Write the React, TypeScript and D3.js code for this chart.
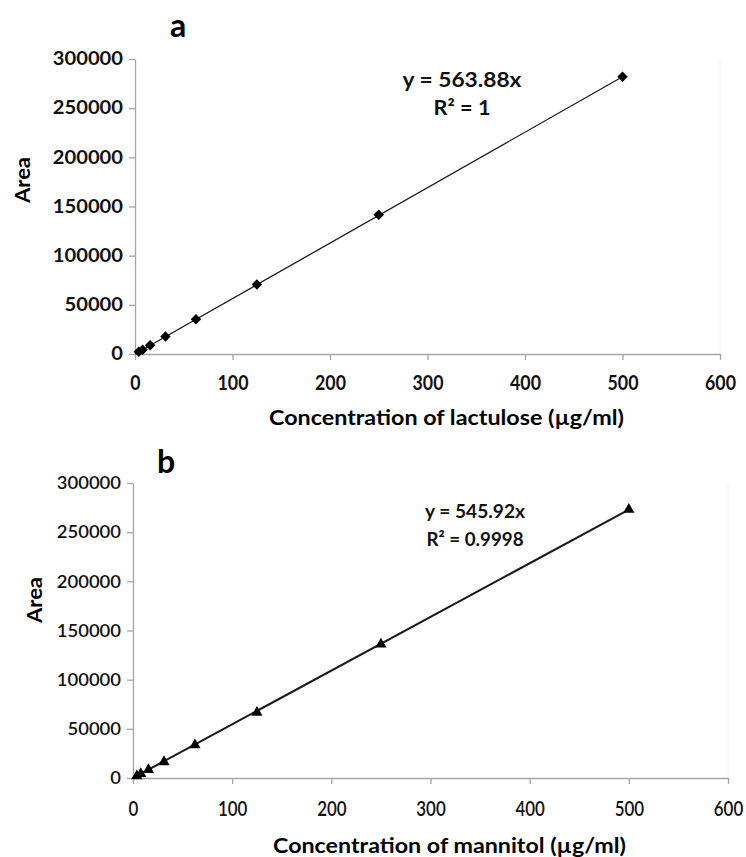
import { useEffect, useRef } from 'react';
import * as d3 from 'd3';

// serial dilutions, µg/ml
const concentrations = [3.9, 7.8, 15.6, 31.25, 62.5, 125, 250, 500];
const lactuloseArea = [2200, 4400, 8800, 17700, 35300, 70700, 141500, 282000];
const mannitolArea = [2100, 4300, 8500, 16400, 33600, 66500, 136000, 273000];

const yTicks = [0, 50000, 100000, 150000, 200000, 250000, 300000];
const xTicks = [0, 100, 200, 300, 400, 500, 600];

const lactuloseSlope = 563.88;
const mannitolSlope = 545.92;

const FONT = 'Lato, "Noto Sans", sans-serif';

interface PanelProps {
  letter: string;
  xTitle: string;
  values: number[];
  slope: number;
  eqText: string;
  r2Text: string;
  marker: 'diamond' | 'triangle';
  frame: { left: number; right: number; top: number; bottom: number };
  letterPos: [number, number];
  areaPos: [number, number];
  eqPos: [number, number];
  eqSize: number;
  eqWidths: [number, number];
  titleY: number;
  titleWidth: number;
  yCharW: number;
  xCharW: number;
  xLabelY: number;
  lineWidth: number;
  tickWeight: number;
}

// stretch text to the measured width of the original (Calibri-like) lettering
function fit(sel: d3.Selection<any, any, any, any>, w: number) {
  return sel.attr('textLength', w).attr('lengthAdjust', 'spacingAndGlyphs');
}

function Panel(p: PanelProps) {
  const ref = useRef<SVGGElement | null>(null);

  useEffect(() => {
    if (!ref.current) return;
    const g = d3.select(ref.current);
    g.selectAll('*').remove();

    const { left, right, top, bottom } = p.frame;
    const x = d3.scaleLinear().domain([0, 600]).range([left, right]);
    const y = d3.scaleLinear().domain([0, 300000]).range([bottom, top]);

    // faint plot-area border on the right
    g.append('line')
      .attr('x1', right).attr('x2', right)
      .attr('y1', top).attr('y2', bottom)
      .attr('stroke', '#f0f0f0');

    const xAxis = g.append('g')
      .attr('transform', `translate(0,${bottom})`)
      .call(d3.axisBottom(x).tickValues(xTicks).tickSize(6).tickSizeOuter(0));
    const yAxis = g.append('g')
      .attr('transform', `translate(${left},0)`)
      .call(d3.axisLeft(y).tickValues(yTicks).tickSize(6).tickPadding(6).tickSizeOuter(0).tickFormat(d3.format('d')));

    [xAxis, yAxis].forEach(ax => {
      ax.select('.domain').attr('stroke', '#a6a6a6').attr('stroke-width', 1.3);
      ax.selectAll('.tick line').attr('stroke', '#a6a6a6').attr('stroke-width', 1.3);
      ax.selectAll('.tick text')
        .attr('fill', '#111')
        .style('font-family', FONT)
        .style('font-weight', p.tickWeight);
    });
    yAxis.selectAll<SVGTextElement, number>('.tick text')
      .style('font-size', '18px')
      .attr('textLength', d => String(d).length * p.yCharW)
      .attr('lengthAdjust', 'spacingAndGlyphs');
    xAxis.selectAll<SVGTextElement, number>('.tick text')
      .style('font-size', '21px')
      .attr('dy', null)
      .attr('y', p.xLabelY - bottom)
      .attr('textLength', d => String(d).length * p.xCharW)
      .attr('lengthAdjust', 'spacingAndGlyphs');

    // trendline through origin
    const line = d3.line<number>().x(d => x(d)).y(d => y(d * p.slope));
    g.append('path')
      .attr('d', line([0, 500]))
      .attr('fill', 'none')
      .attr('stroke', '#1a1a1a')
      .attr('stroke-width', p.lineWidth);

    const sym = d3.symbol()
      .type(p.marker === 'diamond' ? d3.symbolDiamond2 : d3.symbolTriangle)
      .size(p.marker === 'diamond' ? 70 : 55);
    g.selectAll('path.pt')
      .data(concentrations)
      .enter()
      .append('path')
      .attr('class', 'pt')
      .attr('d', sym)
      .attr('transform', (d, i) => `translate(${x(d)},${y(p.values[i])})`)
      .attr('fill', '#000');

    g.append('text')
      .attr('x', p.letterPos[0]).attr('y', p.letterPos[1])
      .attr('text-anchor', 'middle')
      .style('font-family', FONT).style('font-size', '32px').style('font-weight', 700)
      .text(p.letter);

    fit(g.append('text')
      .attr('transform', `translate(${p.areaPos[0]},${p.areaPos[1]}) rotate(-90)`)
      .attr('text-anchor', 'middle')
      .style('font-family', FONT).style('font-size', '21px').style('font-weight', 700)
      .text('Area'), 46);

    fit(g.append('text')
      .attr('x', (left + right) / 2 + 19).attr('y', p.titleY)
      .attr('text-anchor', 'middle')
      .style('font-family', FONT).style('font-size', '21px').style('font-weight', 700)
      .text(p.xTitle), p.titleWidth);

    const eqStyle = (t: d3.Selection<SVGTextElement, unknown, null, undefined>) =>
      t.attr('text-anchor', 'middle')
        .attr('fill', '#111')
        .style('font-family', FONT).style('font-size', `${p.eqSize}px`).style('font-weight', 700);
    fit(eqStyle(g.append('text'))
      .attr('x', p.eqPos[0]).attr('y', p.eqPos[1])
      .text(p.eqText), p.eqWidths[0]);
    fit(eqStyle(g.append('text'))
      .attr('x', p.eqPos[0]).attr('y', p.eqPos[1] + 28)
      .text(p.r2Text), p.eqWidths[1]);
  }, [p]);

  return <g ref={ref} />;
}

export default function App() {
  return (
    <svg width={746} height={857} style={{ position: 'absolute', left: 0, top: 0, background: '#fff' }}>
      <Panel
        letter="a"
        xTitle="Concentration of lactulose (µg/ml)"
        values={lactuloseArea}
        slope={lactuloseSlope}
        eqText="y = 563.88x"
        r2Text="R² = 1"
        marker="diamond"
        frame={{ left: 135, right: 720, top: 59, bottom: 354 }}
        letterPos={[178, 37]}
        areaPos={[30, 180]}
        eqPos={[462, 87]}
        eqSize={21}
        eqWidths={[119, 57]}
        titleY={425}
        titleWidth={355}
        yCharW={11.7}
        xCharW={10.3}
        xLabelY={390}
        lineWidth={1.3}
        tickWeight={700}
      />
      <Panel
        letter="b"
        xTitle="Concentration of mannitol (µg/ml)"
        values={mannitolArea}
        slope={mannitolSlope}
        eqText="y = 545.92x"
        r2Text="R² = 0.9998"
        marker="triangle"
        frame={{ left: 133, right: 728, top: 483, bottom: 778 }}
        letterPos={[166, 473]}
        areaPos={[42, 600]}
        eqPos={[475, 518]}
        eqSize={18.5}
        eqWidths={[100, 97]}
        titleY={853}
        titleWidth={353}
        yCharW={10.7}
        xCharW={9.8}
        xLabelY={816}
        lineWidth={2}
        tickWeight={600}
      />
    </svg>
  );
}
